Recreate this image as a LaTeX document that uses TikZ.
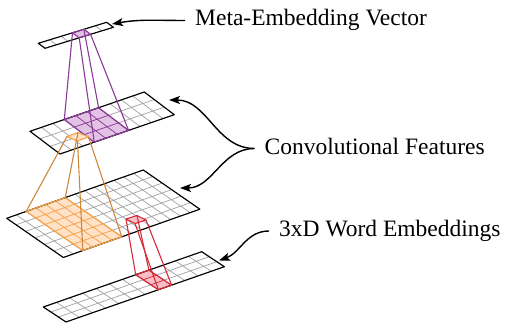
\documentclass[tikz,border=0pt]{standalone}
\usepackage{fontspec}
\setmainfont{Liberation Serif}
\usetikzlibrary{arrows.meta, calc}

\definecolor{purpline}{RGB}{137,59,150}
\definecolor{purpfill}{RGB}{226,194,229}
\definecolor{orangeline}{RGB}{207,135,62}
\definecolor{orangecell}{RGB}{246,163,72}
\definecolor{orangefill}{RGB}{255,226,200}
\definecolor{redline}{RGB}{212,44,56}
\definecolor{redfill}{RGB}{249,190,198}

\begin{document}
\begin{tikzpicture}[
	x=1pt, y=1pt,
	lines/.style={
		line width=1.4pt,
		-{Stealth[length=11pt, width=8pt, inset=2.5pt]}
	},
	txt/.style={
		font=\fontsize{23.5}{28}\selectfont,
		inner xsep=10pt,
		inner ysep=0pt,
		text height=16pt,
		text depth=5pt,
		anchor=west
	},
	gridcells/.style={
		draw=gray!70,
		line width=0.75pt,
		step=1
	},
	border/.style={
		draw=black,
		line width=1.1pt,
		line join=round
	},
	frustum/.style={
		line width=1.1pt,
		line join=round
	}
]
	\useasboundingbox (0,0) rectangle (505,-323);

	% 3xD word embeddings
	\begin{scope}[cm={13.2,4.608,7.567,-5,(43.3,-307)}]
		\fill[white] (0,0) rectangle (12,3);
		\draw[gridcells] (0,0) grid (12,3);
		\fill[redfill] (7,0) rectangle (8,3);
		\draw[gridcells, draw=redline] (7,0) grid (8,3);
		\draw[border] (0,0) rectangle (12,3);
		\draw[frustum, redline] (7,0) rectangle (8,3);
		\coordinate (red_b1) at (7,0);
		\coordinate (red_b2) at (8,0);
		\coordinate (red_b3) at (8,3);
		\coordinate (red_b4) at (7,3);
	\end{scope}

	% first convolutional features
	\begin{scope}[cm={9.757,3.45,9.433,-6.533,(6.7,-218.3)}]
		\fill[white] (0,0) rectangle (14,6);
		\draw[gridcells] (0,0) grid (14,6);
		\fill[orangefill] (2,0) rectangle (6,6);
		\draw[gridcells, draw=orangecell] (2,0) grid (6,6);
		\draw[border] (0,0) rectangle (14,6);
		\draw[frustum, orangecell] (2,0) rectangle (6,6);
		\coordinate (orange_b1) at (2,0);
		\coordinate (orange_b2) at (6,0);
		\coordinate (orange_b3) at (6,6);
		\coordinate (orange_b4) at (2,6);
	\end{scope}

	% second convolutional features
	\begin{scope}[cm={11.43,3.93,10,-7.567,(30,-131.3)}]
		\fill[white] (0,0) rectangle (10,3);
		\draw[gridcells] (0,0) grid (10,3);
		\fill[purpfill] (3,0) rectangle (6,3);
		\draw[gridcells, draw=purpline] (3,0) grid (6,3);
		\draw[border] (0,0) rectangle (10,3);
		\draw[frustum, purpline] (3,0) rectangle (6,3);
		\coordinate (purp_b1) at (3,0);
		\coordinate (purp_b2) at (6,0);
		\coordinate (purp_b3) at (6,3);
		\coordinate (purp_b4) at (3,3);
	\end{scope}

	% meta-embedding vector
	\begin{scope}[cm={11.4,3.5,6.7,-5,(38.3,-43.3)}]
		\fill[white] (0,0) rectangle (6,1);
		\draw[gridcells] (0,0) grid (6,1);
		\fill[purpfill] (3,0) rectangle (4,1);
		\draw[border] (0,0) rectangle (6,1);
		\draw[frustum, purpline] (3,0) rectangle (4,1);
		\coordinate (purp_t1) at (3,0);
		\coordinate (purp_t2) at (4,0);
		\coordinate (purp_t3) at (4,1);
		\coordinate (purp_t4) at (3,1);
	\end{scope}

	%% tops of the filters
	\coordinate (red_t1) at (126,-219);
	\coordinate (red_t2) at (137,-215.5);
	\coordinate (red_t3) at (146,-220);
	\coordinate (red_t4) at (135,-223.5);

	\coordinate (orange_t1) at (67,-136.5);
	\coordinate (orange_t2) at (78,-132.5);
	\coordinate (orange_t3) at (88.5,-137);
	\coordinate (orange_t4) at (77.5,-141);

	\fill[redfill] (red_t1) -- (red_t2) -- (red_t3) -- (red_t4) -- cycle;
	\draw[frustum, redline] (red_t1) -- (red_t2) -- (red_t3) -- (red_t4) -- cycle;
	\foreach \k in {1,...,4}
		\draw[frustum, redline] (red_t\k) -- (red_b\k);

	\fill[orangefill] (orange_t1) -- (orange_t2) -- (orange_t3) -- (orange_t4) -- cycle;
	\draw[frustum, orangecell] (orange_t1) -- (orange_t2) -- (orange_t3) -- (orange_t4) -- cycle;
	\foreach \k in {1,...,4}
		\draw[frustum, orangeline] (orange_t\k) -- (orange_b\k);

	\foreach \k in {1,...,4}
		\draw[frustum, purpline] (purp_t\k) -- (purp_b\k);

	%% labels
	\node[txt] (meta_text) at (185,-20.5) {Meta-Embedding Vector};
	\node[txt] (conv_text) at (254.5,-148.5) {Convolutional Features};
	\node[txt] (word_text) at (269,-231) {3xD Word Embeddings};

	\coordinate (meta_tip) at (112,-24);
	\coordinate (conv_tip_top) at (169,-100);
	\coordinate (conv_tip_bottom) at (180,-188);
	\coordinate (word_tip) at (219,-260.5);

	\draw[lines] (meta_text.west) to[out=180, in=10] (meta_tip);
	\draw[lines] (conv_text.west) to[out=180, in=0] (conv_tip_top);
	\draw[lines] (conv_text.west) to[out=180, in=0] (conv_tip_bottom);
	\draw[lines] (word_text.west) to[out=180, in=20] (word_tip);
\end{tikzpicture}
\end{document}
